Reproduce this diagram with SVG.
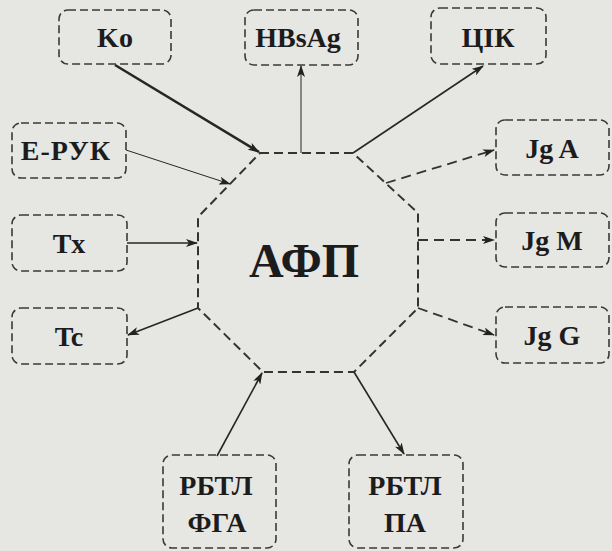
<svg xmlns="http://www.w3.org/2000/svg" width="612" height="551" viewBox="0 0 612 551">
  <defs>
    <style>
      .box { fill: none; stroke: #3a3a3a; stroke-width: 1.6; stroke-dasharray: 8 4; }
      .hub { fill: none; stroke: #333; stroke-width: 2; stroke-dasharray: 9 5; }
      .lbl { font-family: "Liberation Serif", "Times New Roman", serif; font-weight: bold; font-size: 28px; fill: #1c1c1c; text-anchor: middle; }
      .big { font-family: "Liberation Serif", "Times New Roman", serif; font-weight: bold; font-size: 48px; fill: #1c1c1c; text-anchor: middle; }
      .ln { fill: none; stroke: #262626; stroke-width: 1.6; }
      .dl { fill: none; stroke: #333; stroke-width: 1.8; stroke-dasharray: 10 6; }
    </style>
    <marker id="ah" viewBox="0 0 12 8" refX="11" refY="4" markerWidth="12" markerHeight="8" markerUnits="userSpaceOnUse" orient="auto">
      <path d="M0,0 L12,4 L0,8 L3,4 Z" fill="#222"/>
    </marker>
  </defs>

  <rect width="612" height="551" fill="#e6e6e2"/>

  <!-- central hub -->
  <g id="afp">
    <polygon class="hub" points="260,153 353,153 418,213 418,308 354,372 263,372 198,308 198,217"/>
    <text class="big" x="304" y="277">АФП</text>
  </g>

  <!-- nodes -->
  <g id="ko"><rect class="box" x="59" y="10" width="112" height="54" rx="9"/><text class="lbl" x="115" y="47">Ko</text></g>
  <g id="hbsag"><rect class="box" x="245" y="10" width="113" height="55" rx="9"/><text class="lbl" x="298" y="47">HBsAg</text></g>
  <g id="cik"><rect class="box" x="431" y="8" width="115" height="56" rx="9"/><text class="lbl" x="488" y="47">ЦІК</text></g>
  <g id="eruk"><rect class="box" x="12" y="123" width="114" height="55" rx="9"/><text class="lbl" x="66" y="160" style="letter-spacing:1px">Е-РУК</text></g>
  <g id="tx"><rect class="box" x="12" y="215" width="115" height="56" rx="9"/><text class="lbl" x="69" y="253">Tx</text></g>
  <g id="tc"><rect class="box" x="12" y="308" width="115" height="56" rx="9"/><text class="lbl" x="69" y="346">Tc</text></g>
  <g id="jga"><rect class="box" x="496" y="120" width="113" height="55" rx="9"/><text class="lbl" x="552" y="158">Jg A</text></g>
  <g id="jgm"><rect class="box" x="496" y="213" width="113" height="54" rx="9"/><text class="lbl" x="552" y="250">Jg M</text></g>
  <g id="jgg"><rect class="box" x="496" y="307" width="113" height="56" rx="9"/><text class="lbl" x="552" y="345">Jg G</text></g>
  <g id="rbtl-fga"><rect class="box" x="163" y="455" width="113" height="93" rx="9"/><text class="lbl" x="216" y="495">РБТЛ</text><text class="lbl" x="217" y="532">ФГА</text></g>
  <g id="rbtl-pa"><rect class="box" x="349" y="455" width="114" height="93" rx="9"/><text class="lbl" x="405" y="495">РБТЛ</text><text class="lbl" x="405" y="532">ПА</text></g>

  <!-- connectors -->
  <g id="connectors">
    <line class="ln" x1="115" y1="65" x2="259" y2="152" style="stroke-width:2.6" marker-end="url(#ah)"/>
    <line class="ln" x1="126" y1="150" x2="230" y2="184" style="stroke-width:1" marker-end="url(#ah)"/>
    <line class="ln" x1="127" y1="243" x2="197" y2="243" marker-end="url(#ah)"/>
    <line class="ln" x1="301" y1="153" x2="301" y2="66" style="stroke-width:1" marker-end="url(#ah)"/>
    <line class="ln" x1="353" y1="153" x2="483" y2="66" marker-end="url(#ah)"/>
    <line class="dl" x1="386" y1="183" x2="494" y2="150" marker-end="url(#ah)"/>
    <line class="dl" x1="418" y1="240" x2="494" y2="240" marker-end="url(#ah)"/>
    <line class="dl" x1="418" y1="308" x2="494" y2="335" marker-end="url(#ah)"/>
    <line class="ln" x1="198" y1="308" x2="128" y2="335" marker-end="url(#ah)"/>
    <line class="ln" x1="217" y1="456" x2="262" y2="373" marker-end="url(#ah)"/>
    <line class="ln" x1="354" y1="372" x2="404" y2="454" marker-end="url(#ah)"/>
  </g>
</svg>
